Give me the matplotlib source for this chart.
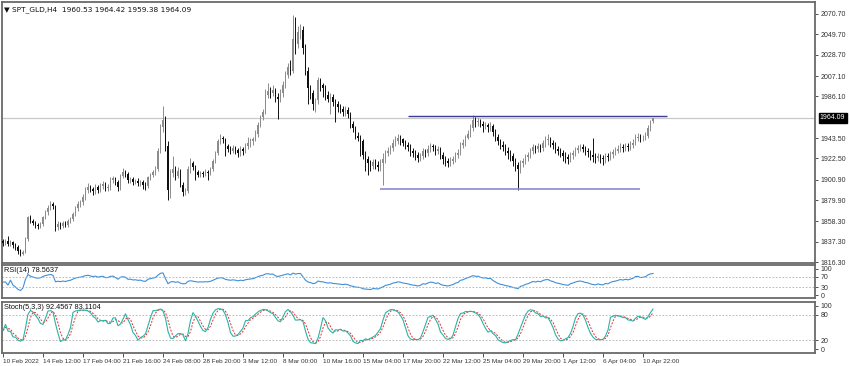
import numpy as np
import pandas as pd
import matplotlib
matplotlib.use("Agg")
import matplotlib.pyplot as plt

# ---------------- data ----------------
symbol_title = "\u25BC SPT_GLD,H4  1960.53 1964.42 1959.38 1964.09"
first_open = 1838.0
last_open = 1960.53

closes = [
    1836, 1838, 1835, 1837, 1834, 1832, 1828, 1825, 1827, 1840,
    1862, 1858, 1856, 1854, 1853, 1855, 1862, 1868, 1872, 1876,
    1874, 1852, 1855, 1853, 1856, 1854, 1858, 1860, 1866, 1872,
    1876, 1878, 1883, 1890, 1893, 1891, 1889, 1893, 1890, 1894,
    1896, 1892, 1893, 1900, 1902, 1898, 1893, 1905, 1909, 1907,
    1900, 1901, 1898, 1899, 1897, 1898, 1895, 1894, 1903, 1906,
    1909, 1912, 1930, 1955, 1962, 1935, 1890, 1908, 1912, 1905,
    1910, 1895, 1888, 1889, 1912, 1918, 1914, 1909, 1906, 1908,
    1907, 1909, 1908, 1912, 1920, 1928, 1940, 1944, 1942, 1935,
    1932, 1930, 1933, 1931, 1928, 1932, 1930, 1935, 1938, 1940,
    1942, 1948, 1957, 1965, 1970, 1988, 1992, 1990, 1993, 1986,
    1984, 1990, 1998, 2008, 2016, 2012, 2045, 2040, 2052, 2054,
    2036, 2012, 1995, 1990, 1978, 1982, 2003, 1998, 1995, 1988,
    1984, 1986, 1980, 1978, 1975, 1973, 1970, 1972, 1968, 1958,
    1954, 1946, 1944, 1940, 1926, 1922, 1918, 1915, 1919, 1916,
    1914, 1918, 1922, 1928, 1930, 1933, 1938, 1940, 1944, 1942,
    1938, 1936, 1934, 1930, 1928, 1926, 1923, 1925, 1930, 1928,
    1932, 1935, 1934, 1930, 1932, 1926, 1922, 1920, 1918, 1920,
    1922, 1926, 1928, 1936, 1938, 1944, 1948, 1954, 1962, 1960,
    1961, 1958, 1956, 1957, 1955, 1956, 1950, 1945, 1940, 1936,
    1934, 1930, 1928, 1925, 1920, 1916, 1912, 1918, 1920, 1924,
    1926, 1930, 1934, 1932, 1935, 1933, 1938, 1941, 1942, 1938,
    1936, 1932, 1930, 1928, 1925, 1924, 1922, 1926, 1928, 1931,
    1933, 1934, 1932, 1930, 1929, 1926, 1924, 1923, 1925, 1923,
    1922, 1925, 1924, 1927, 1929, 1930, 1932, 1934, 1933, 1935,
    1934, 1936, 1938, 1944, 1945, 1943, 1944, 1946, 1954, 1960.53,
    1964.09,
]

highs = [
    1840, 1840, 1843, 1839, 1838, 1836, 1834, 1830, 1829, 1842,
    1864, 1865, 1860, 1858, 1856, 1857, 1864, 1870, 1875, 1879,
    1878, 1875, 1858, 1857, 1858, 1858, 1860, 1862, 1868, 1874,
    1879, 1880, 1886, 1893, 1897, 1895, 1893, 1896, 1895, 1897,
    1899, 1898, 1896, 1903, 1905, 1904, 1900, 1907, 1913, 1911,
    1909, 1904, 1903, 1901, 1902, 1900, 1900, 1898, 1905, 1908,
    1911, 1915, 1933, 1958, 1976, 1966, 1940, 1912, 1925, 1915,
    1914, 1912, 1898, 1892, 1915, 1923, 1920, 1916, 1911, 1910,
    1910, 1912, 1911, 1914, 1922, 1930, 1942, 1948, 1946, 1944,
    1937, 1935, 1936, 1935, 1933, 1935, 1934, 1938, 1945, 1943,
    1945, 1952, 1960, 1967, 1973, 1994, 2000, 1996, 1998, 1995,
    1990, 1994, 2002, 2012, 2020, 2024, 2070, 2068, 2058, 2060,
    2058, 2040, 2016, 1998, 1993, 1985, 2006, 2005, 2000, 1998,
    1992, 1990, 1989, 1984, 1981, 1978, 1976, 1976, 1975, 1970,
    1961, 1956, 1950, 1947, 1942, 1930, 1925, 1921, 1922, 1922,
    1920, 1922, 1928, 1931, 1934, 1936, 1942, 1946, 1948, 1947,
    1944, 1941, 1939, 1937, 1933, 1931, 1929, 1928, 1933, 1932,
    1936, 1938, 1937, 1936, 1935, 1934, 1929, 1925, 1923, 1924,
    1925, 1929, 1932, 1939, 1942, 1947, 1952, 1958, 1967, 1965,
    1964, 1963, 1961, 1960, 1959, 1960, 1958, 1953, 1948, 1942,
    1940, 1937, 1934, 1931, 1928, 1923, 1919, 1921, 1923, 1927,
    1929, 1933, 1937, 1936, 1938, 1937, 1941, 1946, 1948, 1945,
    1941, 1939, 1935, 1933, 1931, 1929, 1927, 1929, 1931, 1934,
    1936, 1937, 1937, 1935, 1933, 1931, 1944, 1928, 1928, 1927,
    1926, 1928, 1928, 1930, 1932, 1934, 1936, 1938, 1937, 1938,
    1938, 1940, 1942, 1948, 1949, 1948, 1947, 1950, 1957, 1962,
    1964.42,
]

lows = [
    1833, 1834, 1833, 1833, 1831, 1829, 1825, 1822, 1823, 1826,
    1838, 1856, 1854, 1851, 1850, 1851, 1853, 1860, 1865, 1870,
    1871, 1848, 1849, 1850, 1851, 1852, 1852, 1856, 1858, 1864,
    1869, 1873, 1875, 1880, 1887, 1888, 1885, 1886, 1887, 1888,
    1891, 1889, 1889, 1890, 1897, 1895, 1889, 1890, 1902, 1903,
    1897, 1897, 1895, 1896, 1894, 1894, 1891, 1890, 1892, 1900,
    1903, 1906, 1910, 1928, 1950, 1930, 1880, 1882, 1903, 1900,
    1902, 1893, 1884, 1885, 1887, 1908, 1911, 1900, 1903, 1904,
    1904, 1905, 1900, 1906, 1910, 1918, 1926, 1937, 1938, 1925,
    1929, 1927, 1928, 1927, 1924, 1925, 1926, 1928, 1932, 1934,
    1936, 1940, 1945, 1955, 1962, 1968, 1985, 1985, 1987, 1980,
    1963, 1980, 1986, 1995, 2005, 2008, 2010, 2030, 2036, 2045,
    2030, 2008, 1978, 1984, 1972, 1970, 1978, 1992, 1986, 1982,
    1980, 1968, 1976, 1960, 1970, 1969, 1966, 1966, 1964, 1954,
    1950, 1942, 1940, 1925, 1922, 1910, 1906, 1910, 1912, 1912,
    1910, 1910, 1895, 1918, 1925, 1927, 1930, 1935, 1937, 1936,
    1935, 1932, 1930, 1925, 1924, 1921, 1919, 1920, 1922, 1924,
    1925, 1929, 1930, 1926, 1927, 1922, 1917, 1915, 1914, 1915,
    1917, 1919, 1923, 1926, 1933, 1935, 1942, 1945, 1951, 1955,
    1956, 1955, 1950, 1953, 1950, 1951, 1946, 1940, 1936, 1932,
    1930, 1926, 1922, 1920, 1915, 1910, 1890, 1908, 1914, 1917,
    1920, 1923, 1927, 1928, 1929, 1929, 1930, 1934, 1936, 1934,
    1932, 1928, 1926, 1924, 1920, 1918, 1917, 1919, 1922, 1925,
    1928, 1930, 1929, 1926, 1924, 1921, 1919, 1918, 1920, 1918,
    1916, 1918, 1920, 1921, 1923, 1926, 1928, 1929, 1929, 1930,
    1930, 1931, 1933, 1936, 1940, 1939, 1940, 1941, 1944, 1951,
    1959.38,
]

price_ticks = [2070.70, 2049.70, 2028.70, 2007.10, 1986.10, 1943.50,
               1922.50, 1900.90, 1879.90, 1858.30, 1837.30, 1816.30]
last_price = 1964.09

resistance_level = 1966.0
resistance_span = (162, 265.6)
support_level = 1891.0
support_span = (150.8, 254.8)

time_tick_bars = [0, 16, 32, 48, 64, 80, 96, 112, 128, 144, 160, 176, 192,
                  208, 224, 240, 256]
time_labels = ["10 Feb 2022", "14 Feb 12:00", "17 Feb 04:00", "21 Feb 16:00",
               "24 Feb 08:00", "28 Feb 20:00", "3 Mar 12:00", "8 Mar 00:00",
               "10 Mar 16:00", "15 Mar 04:00", "17 Mar 20:00", "22 Mar 12:00",
               "25 Mar 04:00", "29 Mar 20:00", "1 Apr 12:00", "6 Apr 04:00",
               "10 Apr 22:00"]

rsi_label = "RSI(14) 78.5637"
stoch_label = "Stoch(5,3,3) 92.4567 83.1104"

# ---------------- derived ----------------
c = np.array(closes, dtype=float)
h = np.array(highs, dtype=float)
l = np.array(lows, dtype=float)
o = np.concatenate([[first_open], c[:-1]])
o[-1] = last_open
n = len(c)
idx = np.arange(n)

cs = pd.Series(c)
delta = cs.diff().fillna(0)
gain = delta.clip(lower=0).ewm(alpha=1/14, adjust=False).mean()
loss = (-delta.clip(upper=0)).ewm(alpha=1/14, adjust=False).mean()
rsi = 100 - 100 / (1 + gain / loss.replace(0, np.nan))
rsi = rsi.fillna(50)

hh = pd.Series(h).rolling(5, min_periods=1).max()
ll = pd.Series(l).rolling(5, min_periods=1).min()
num = (cs - ll).rolling(3, min_periods=1).sum()
den = (hh - ll).rolling(3, min_periods=1).sum()
stoch_k = 100 * num / den
stoch_d = stoch_k.rolling(3, min_periods=1).mean()

# ---------------- drawing ----------------
plt.rcParams['font.family'] = ['Liberation Sans', 'DejaVu Sans']
W, H = 850, 366
fig = plt.figure(figsize=(W / 100, H / 100), dpi=100)
fig.patch.set_facecolor('white')

def fx(px):
    return px / W

def fy(py):
    return 1 - py / H

left_px, right_px = 2, 815
ax = fig.add_axes([fx(left_px), fy(263), fx(right_px - left_px), (263 - 2) / H])
ax_r = fig.add_axes([fx(left_px), fy(298), fx(right_px - left_px), (298 - 265) / H])
ax_s = fig.add_axes([fx(left_px), fy(353), fx(right_px - left_px), (353 - 302) / H])

xlim = ((left_px - 3) / 2.5, (right_px - 3) / 2.5)
frame_col = '#6a6a6a'
tick_fs = 5.0

for a in (ax, ax_r, ax_s):
    a.set_xlim(*xlim)
    a.set_facecolor('white')
    for s in a.spines.values():
        s.set_color(frame_col)
        s.set_linewidth(1.3)
    a.yaxis.tick_right()
    a.tick_params(axis='y', direction='out', length=2.5, width=0.6,
                  colors='#333333', labelsize=tick_fs, pad=1.5)
    a.tick_params(axis='x', bottom=False, labelbottom=False)

# candles
up = c >= o
bull_col, bear_col = '#8c8c8c', '#101010'
cols = np.where(up, bull_col, bear_col)
ax.vlines(idx, l, h, colors=cols, linewidth=0.7, zorder=3)
body_bottom = np.minimum(o, c)
body_h = np.maximum(np.abs(c - o), 0.8)
ax.bar(idx, body_h, bottom=body_bottom, width=0.62, color=cols,
       edgecolor='none', zorder=4)

ax.set_ylim(1815.3, 2083.0)
ax.set_yticks(price_ticks)
ax.set_yticklabels([f"{v:.2f}" for v in price_ticks])

ax.axhline(last_price, color='#c8c8c8', linewidth=0.9, zorder=1)
ax.hlines(resistance_level, *resistance_span, colors='#3c3c96', linewidth=1.0, zorder=5)
ax.hlines(support_level, *support_span, colors='#8a8ad2', linewidth=1.2, zorder=5)

ax.text(1.006, last_price, f"{last_price:.2f}", transform=ax.get_yaxis_transform(),
        ha='left', va='center', fontsize=tick_fs, color='white',
        bbox=dict(boxstyle='square,pad=0.18', facecolor='black', edgecolor='black'),
        clip_on=False, zorder=6)

ax.text(0.003, 0.985, symbol_title, transform=ax.transAxes, ha='left', va='top',
        fontsize=5.3, color='#111111', family=['DejaVu Sans'])

# RSI
ax_r.plot(idx, rsi, color='#3f8fd8', linewidth=0.8)
ax_r.set_ylim(-11, 115)
for lv in (70, 30):
    ax_r.axhline(lv, color='#b0b0b0', linewidth=0.6, linestyle=(0, (2, 2)))
ax_r.set_yticks([100, 70, 30, 0])
ax_r.set_yticklabels(['100', '70', '30', '0'])
ax_r.text(0.003, 0.93, rsi_label, transform=ax_r.transAxes, ha='left', va='top',
          fontsize=5.3, color='#111111')

# Stochastic
ax_s.plot(idx, stoch_k, color='#2ab3a8', linewidth=0.8, zorder=3)
ax_s.plot(idx, stoch_d, color='#e0312f', linewidth=0.7, linestyle=(0, (2, 1.5)), zorder=2)
ax_s.set_ylim(-9, 109)
for lv in (80, 20):
    ax_s.axhline(lv, color='#b0b0b0', linewidth=0.6, linestyle=(0, (2, 2)))
ax_s.set_yticks([100, 80, 20, 0])
ax_s.set_yticklabels(['100', '80', '20', '0'])
ax_s.text(0.003, 0.96, stoch_label, transform=ax_s.transAxes, ha='left', va='top',
          fontsize=5.3, color='#111111')

ax_s.set_xticks(time_tick_bars)
ax_s.set_xticklabels(time_labels)
ax_s.tick_params(axis='x', bottom=True, labelbottom=True, direction='out',
                 length=3, width=0.6, colors='#333333', labelsize=4.6, pad=1.5)
for t in ax_s.get_xticklabels():
    t.set_ha('left')

fig.savefig('out.png', dpi=100, facecolor='white')
